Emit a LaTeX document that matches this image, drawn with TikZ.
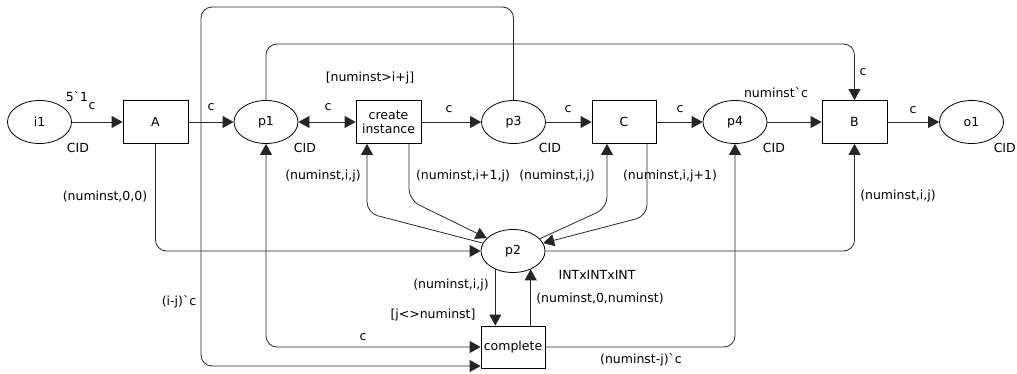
\documentclass[tikz,border=0pt]{standalone}
\usepackage{fontspec}
\setmainfont{DejaVu Sans}[Ligatures=TeXOff]
\usetikzlibrary{shapes.geometric,arrows.meta}
\begin{document}
\begin{tikzpicture}[x=1pt,y=-1pt,
  every node/.style={font=\fontsize{12.5}{15}\selectfont},
  place/.style={draw=black,ellipse,line width=0.8pt,minimum width=64pt,minimum height=43pt,inner sep=0pt},
  trans/.style={draw=black,rectangle,line width=0.8pt,minimum width=65pt,minimum height=43pt,inner sep=0pt,align=center},
  conn/.style={draw=black!85,line width=0.8pt,-{Triangle[length=11pt,width=12pt]},rounded corners=11pt},
  both/.style={{Triangle[length=11pt,width=12pt]}-{Triangle[length=11pt,width=12pt]}},
  lbl/.style={inner sep=0pt,anchor=center}]
\useasboundingbox (0,0) rectangle (1017,374);
% places and transitions
\node[place] (i1) at (39.5,122) {i1};
\node[trans] (A) at (155.5,122) {A};
\node[place] (p1) at (266,122) {p1};
\node[trans] (ci) at (388.5,122) {create\\[-1pt]instance};
\node[place] (p3) at (513.5,122) {p3};
\node[trans,minimum width=64pt] (C) at (624,122) {C};
\node[place] (p4) at (735,122) {p4};
\node[trans] (B) at (854.5,122) {B};
\node[place] (o1) at (971.5,122) {o1};
\node[place] (p2) at (513,251) {p2};
\node[trans,minimum width=64pt,minimum height=42pt] (cp) at (513,347) {complete};
% main row
\draw[conn] (i1.east) -- (A.west);
\draw[conn] (A.east) -- (p1.west);
\draw[conn,both] (p1.east) -- (ci.west);
\draw[conn] (ci.east) -- (p3.west);
\draw[conn] (p3.east) -- (C.west);
\draw[conn] (C.east) -- (p4.west);
\draw[conn] (p4.east) -- (B.west);
\draw[conn] (B.east) -- (o1.west);
% long arcs
\draw[conn] (p1.north) -- (p1.north |- 0,44) -- (B.north |- 0,44) -- (B.north);
\draw[conn] (p3.north) -- (p3.north |- 0,7) -- (201,7) -- (201,366) -- (cp.west |- 0,366);
\draw[conn,both] (p1.south) -- (p1.south |- cp.west) -- (cp.west);
\draw[conn] (cp.east) -- (cp.east -| p4.south) -- (p4.south);
\draw[conn] (A.south) -- (A.south |- p2.west) -- (p2.west);
\draw[conn] (p2.east) -- (p2.east -| B.south) -- (B.south);
% p2 with create instance and C
\draw[conn] (p2) -- (367,213) -- (ci.south -| 367,0);
\draw[conn] (ci.south -| 409,0) -- (409,200) -- (p2);
\draw[conn] (p2) -- (607,208) -- (C.south -| 607,0);
\draw[conn] (C.south -| 647,0) -- (647,216) -- (p2);
% p2 with complete
\draw[conn] (p2.-134) -- (p2.-134 |- cp.north);
\draw[conn] (p2.-46 |- cp.north) -- (p2.-46);
% labels
\node[lbl] (l1) at (77,97) {5`1};
\node[lbl] (l2) at (92,106) {c};
\node[lbl] (l3) at (78,148) {CID};
\node[lbl] (l4) at (211,107) {c};
\node[lbl] (l5) at (305,148) {CID};
\node[lbl] (l6) at (328,107) {c};
\node[lbl] (l7) at (370,78) {[numinst>i+j]};
\node[lbl] (l8) at (449,109) {c};
\node[lbl] (l9) at (550,148) {CID};
\node[lbl] (l10) at (568,109) {c};
\node[lbl] (l11) at (680,109) {c};
\node[lbl] (l12) at (776,93) {numinst`c};
\node[lbl] (l13) at (774,148) {CID};
\node[lbl] (l14) at (863,72) {c};
\node[lbl] (l15) at (913,110) {c};
\node[lbl,anchor=east] (l16) at (1016,148) {CID};
\node[lbl] (l17) at (105,197) {(numinst,0,0)};
\node[lbl] (l18) at (323,176) {(numinst,i,j)};
\node[lbl] (l19) at (463,176) {(numinst,i+1,j)};
\node[lbl] (l20) at (557,176) {(numinst,i,j)};
\node[lbl] (l21) at (670,176) {(numinst,i,j+1)};
\node[lbl] (l22) at (898,196) {(numinst,i,j)};
\node[lbl] (l23) at (597,275) {INTxINTxINT};
\node[lbl] (l24) at (451,285) {(numinst,i,j)};
\node[lbl] (l25) at (600,299) {(numinst,0,numinst)};
\node[lbl] (l26) at (433,315) {[j<>numinst]};
\node[lbl] (l27) at (363,337) {c};
\node[lbl] (l28) at (641,360) {(numinst-j)`c};
\node[lbl] (l29) at (179,302) {(i-j)`c};
\end{tikzpicture}
\end{document}
